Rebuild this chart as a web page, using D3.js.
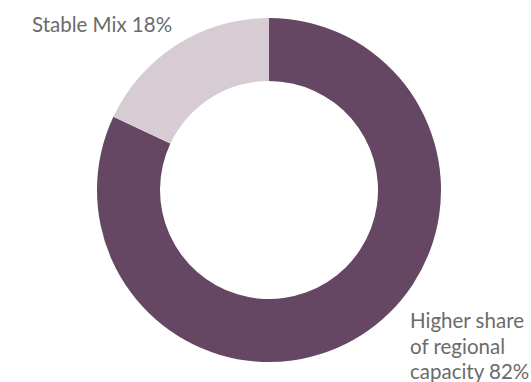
<!DOCTYPE html>
<html>
<head>
<meta charset="utf-8">
<script src="https://cdn.jsdelivr.net/npm/d3@7"></script>
<style>
  body { margin: 0; background: #fff; }
  text { font-family: Lato, "Open Sans", sans-serif; fill: #6b6b6b; }
</style>
</head>
<body>
<script>
"use strict";

(function() {

let width = 531;
let height = 382;

// slices in drawing order, clockwise from 12 o'clock
let categories = ['Higher share of regional capacity', 'Stable Mix'];
let values = [82, 18];
let colors = ['#654763', '#d7ccd3'];

let cx = 269, cy = 190;
let outerR = 172, innerR = 109;

let svg = d3.select('body')
    .append('svg')
    .attr('width', width)
    .attr('height', height);

let g = svg.append('g')
    .attr('transform', 'translate(' + cx + ',' + cy + ')');

let pie = d3.pie().sort(null).value(function(d) { return d; });
let arc = d3.arc().innerRadius(innerR).outerRadius(outerR);

g.selectAll('.slice')
    .data(pie(values))
    .enter()
    .append('path')
    .attr('class', 'slice')
    .attr('d', arc)
    .attr('fill', function(d, i) { return colors[i]; });

// labels
svg.append('text')
    .attr('x', 32)
    .attr('y', 32)
    .style('font-size', '20.5px')
    .text(categories[1] + ' ' + values[1] + '%');

let lines = ['Higher share', 'of regional', 'capacity ' + values[0] + '%'];
svg.append('text')
    .attr('x', 410)
    .attr('y', 328)
    .style('font-size', '20.5px')
    .selectAll('tspan')
    .data(lines)
    .enter()
    .append('tspan')
    .attr('x', 410)
    .attr('dy', function(d, i) { return i === 0 ? 0 : 25.5; })
    .text(function(d) { return d; });

})();
</script>
</body>
</html>
